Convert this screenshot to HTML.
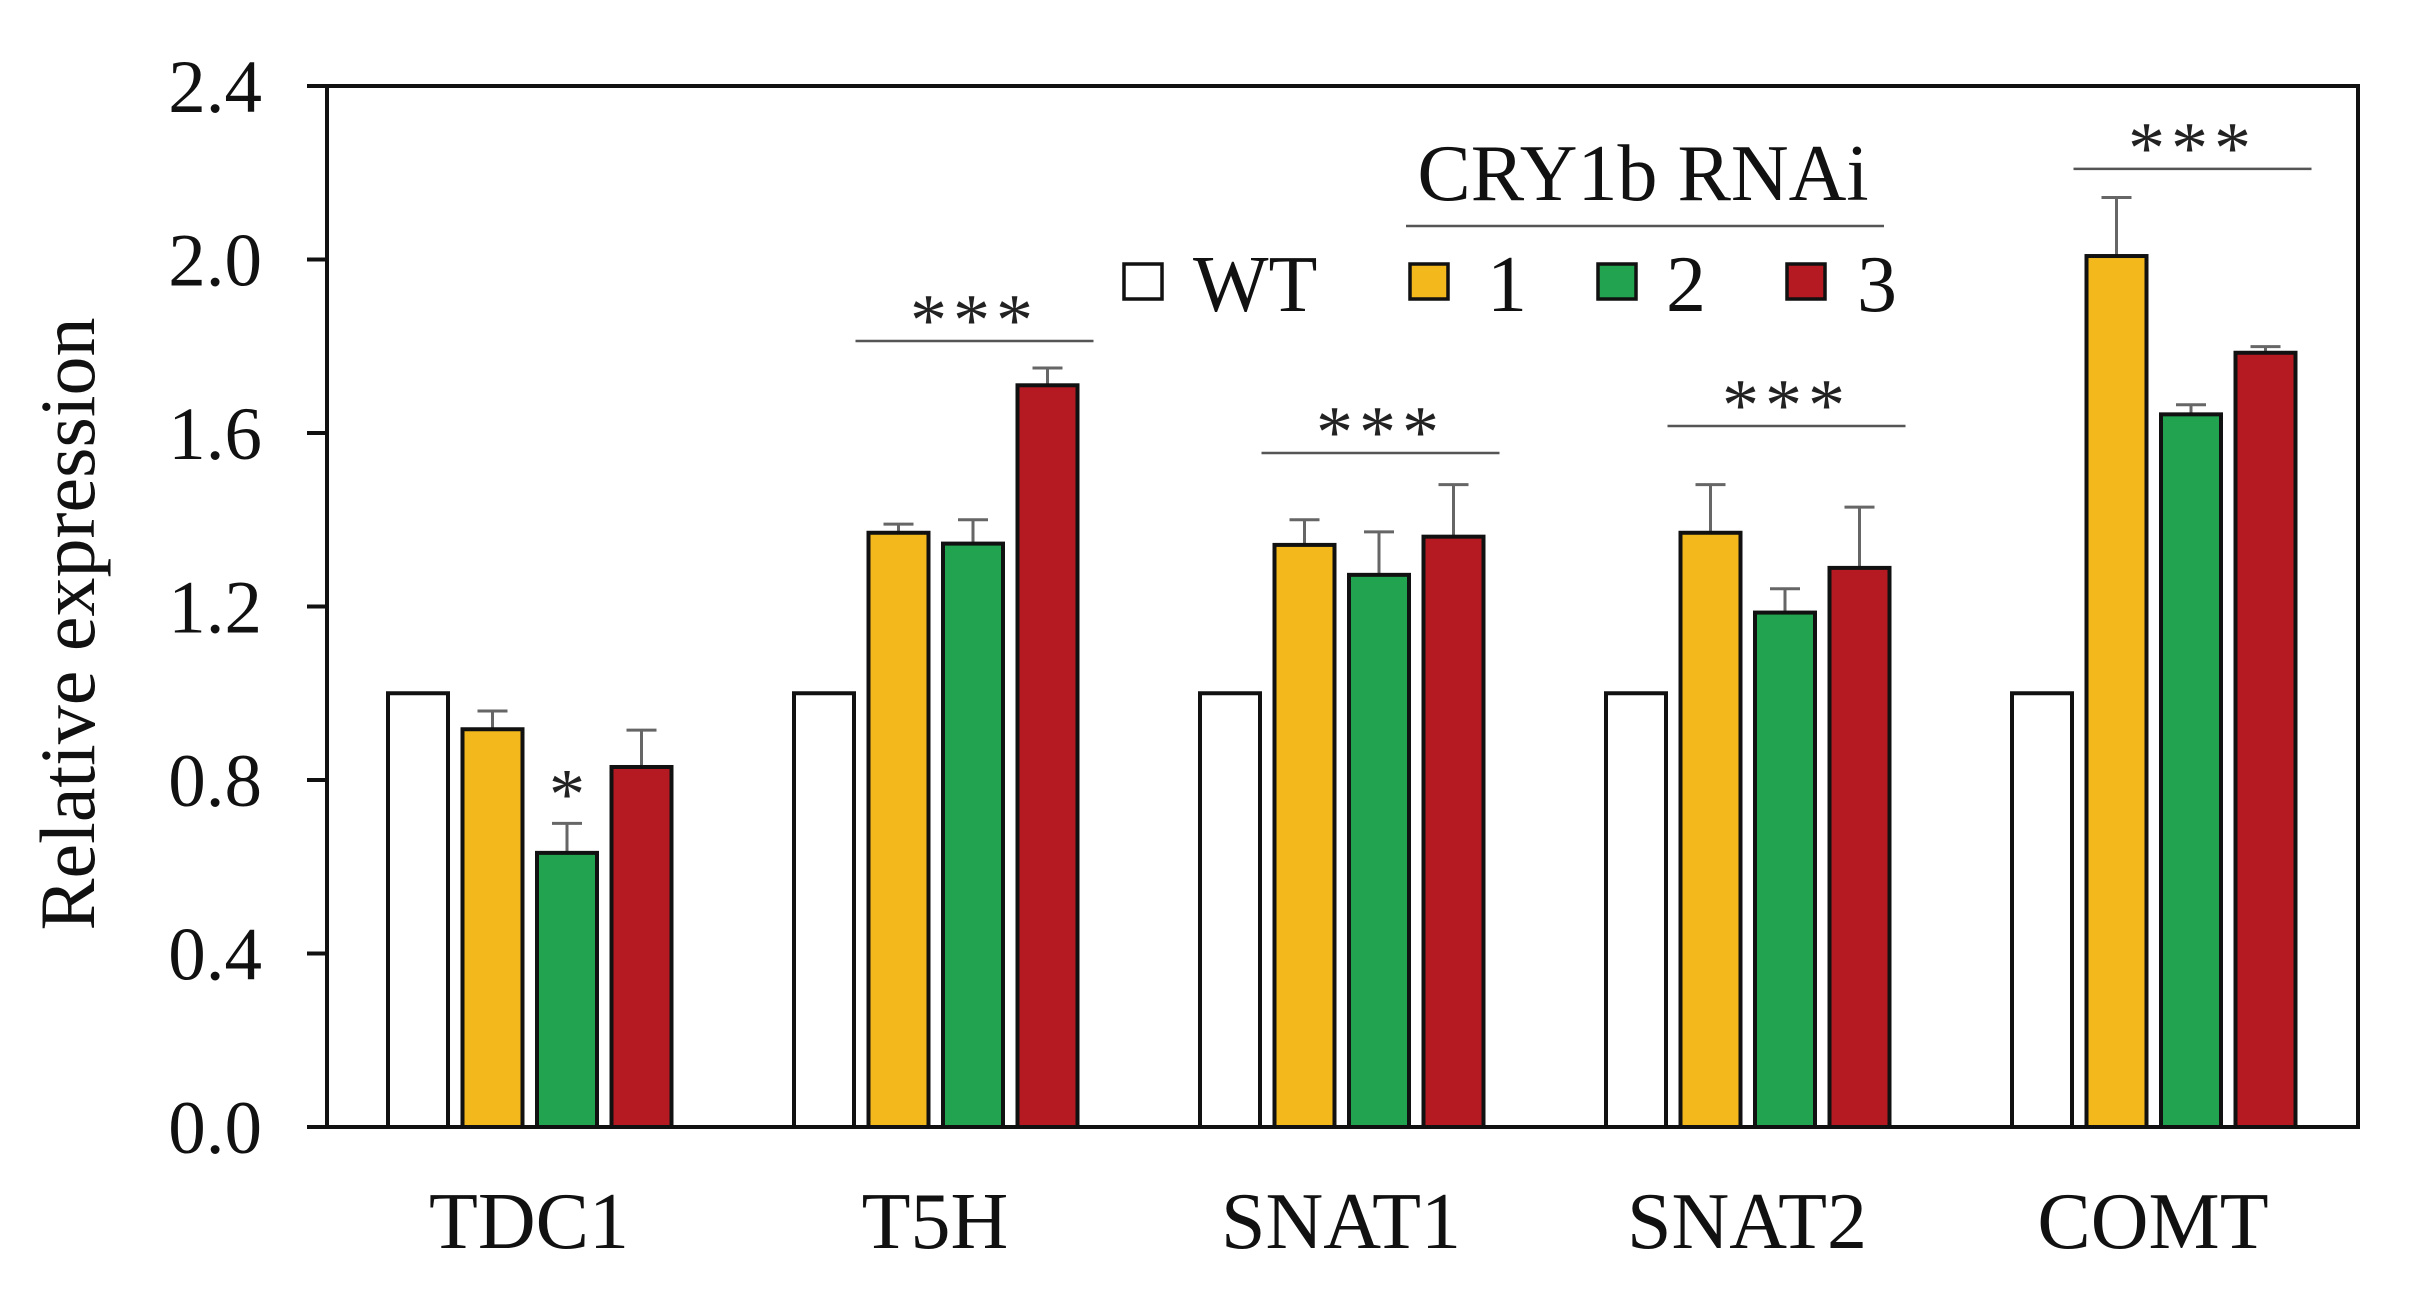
<!DOCTYPE html>
<html><head><meta charset="utf-8"><style>
html,body{margin:0;padding:0;background:#fff;}
svg{display:block;}
text{font-family:"Liberation Serif","Times New Roman",Times,serif;}
</style></head><body>
<svg id="chart" width="2418" height="1296" viewBox="0 0 2418 1296">
<g id="plot"></g>
</svg>
<script>
const categories = ["TDC1","T5H","SNAT1","SNAT2","COMT"];
const seriesNames = ["WT","1","2","3"];
const wtValues = [1,1,1,1,1];
const line1Values = [0.917,1.37,1.342,1.37,2.008];
const line2Values = [0.632,1.345,1.273,1.186,1.643];
const line3Values = [0.83,1.71,1.361,1.289,1.785];
const wtErr = [0,0,0,0,0];
const line1Err = [0.042,0.02,0.058,0.111,0.135];
const line2Err = [0.068,0.055,0.099,0.055,0.022];
const line3Err = [0.085,0.04,0.12,0.14,0.014];
const yTicks = ["0.0","0.4","0.8","1.2","1.6","2.0","2.4"];
const sigLabels = ["*","***","***","***","***"];
const sigLevels = [0.70,1.812,1.554,1.616,2.209];

const colors = ["#ffffff","#f2b81c","#22a34f","#b51a22"];
const NS = "http://www.w3.org/2000/svg";
const FF = '"Liberation Serif","Times New Roman",Times,serif';
const plot = document.getElementById("plot");
const X0 = 327, X1 = 2358, Y0 = 1127, YT = 86, YMAX = 2.4;
const y = v => Y0 - (v / YMAX) * (Y0 - YT);
const groupStart = i => 388 + i * 406;
const barX = (i, s) => groupStart(i) + s * 74.5;
const BW = 60;
function mk(tag, attrs, txt){
  const e = document.createElementNS(NS, tag);
  for (const k in attrs) e.setAttribute(k, attrs[k]);
  if (txt !== undefined) { e.textContent = txt; e.setAttribute("font-family", FF); }
  plot.appendChild(e);
  return e;
}
const values = [wtValues, line1Values, line2Values, line3Values];
const errs = [wtErr, line1Err, line2Err, line3Err];

yTicks.forEach((t) => {
  const v = parseFloat(t);
  const tk = mk("line",{x1:307,x2:X0,y1:y(v),y2:y(v),stroke:"#111","stroke-width":4});
  
  
  const lb = mk("text",{x:262,y:y(v)+26,"text-anchor":"end","font-size":75,fill:"#111"},t);
  
  
});

categories.forEach((c, i) => {
  for (let s = 0; s < 4; s++) {
    const v = values[s][i], e = errs[s][i];
    const x = barX(i, s);
    if (e > 0) {
      const cx = x + BW / 2;
      const el = mk("line",{x1:cx,x2:cx,y1:y(v),y2:y(v+e),stroke:"#666","stroke-width":3});
      
      
      const cap = mk("line",{x1:cx-15,x2:cx+15,y1:y(v+e),y2:y(v+e),stroke:"#666","stroke-width":3});
      
      
    }
    const r = mk("rect",{x:x,y:y(v),width:BW,height:Y0-y(v),fill:colors[s],stroke:"#111","stroke-width":4});
    
    
  }
  const lbl = mk("text",{x:groupStart(i)+141,y:1248,"text-anchor":"middle","font-size":80,fill:"#111"},c);
  
  
  if (sigLabels[i] === "*") {
    const st = mk("text",{x:barX(i,2)+BW/2,y:y(sigLevels[i])-38+33,"text-anchor":"middle","font-size":72,fill:"#222"},"*");
    
    
  } else {
    const ly = y(sigLevels[i]);
    const x1 = barX(i,1) - 13, x2 = barX(i,3) + BW + 16;
    const sl = mk("line",{x1:x1,x2:x2,y1:ly,y2:ly,stroke:"#555","stroke-width":2.5});
    
    
    const st = mk("text",{x:(x1+x2)/2,y:ly-29+33,"text-anchor":"middle","font-size":74,"letter-spacing":6,fill:"#222"},sigLabels[i]);
    
    
  }
});

const fr = mk("rect",{x:X0,y:YT,width:X1-X0,height:Y0-YT,fill:"none",stroke:"#111","stroke-width":4});



const yt = mk("text",{x:0,y:0,transform:"translate(94,624) rotate(-90)","text-anchor":"middle","font-size":78,fill:"#111"},"Relative expression");



const legBoxes = [[1124,"WT",1193],[1410,"1",1487],[1598,"2",1666],[1787,"3",1857]];
legBoxes.forEach((b, s) => {
  const r = mk("rect",{x:b[0],y:264,width:38,height:35,fill:colors[s],stroke:"#111","stroke-width":3.5});
  
  
  const t = mk("text",{x:b[2],y:311,"font-size":80,fill:"#111"},b[1]);
  
  
});
const lt = mk("text",{x:1643,y:200,"text-anchor":"middle","font-size":80,fill:"#111"},"CRY1b RNAi");


const ll = mk("line",{x1:1406,x2:1884,y1:226,y2:226,stroke:"#555","stroke-width":2.5});


</script>
</body></html>
